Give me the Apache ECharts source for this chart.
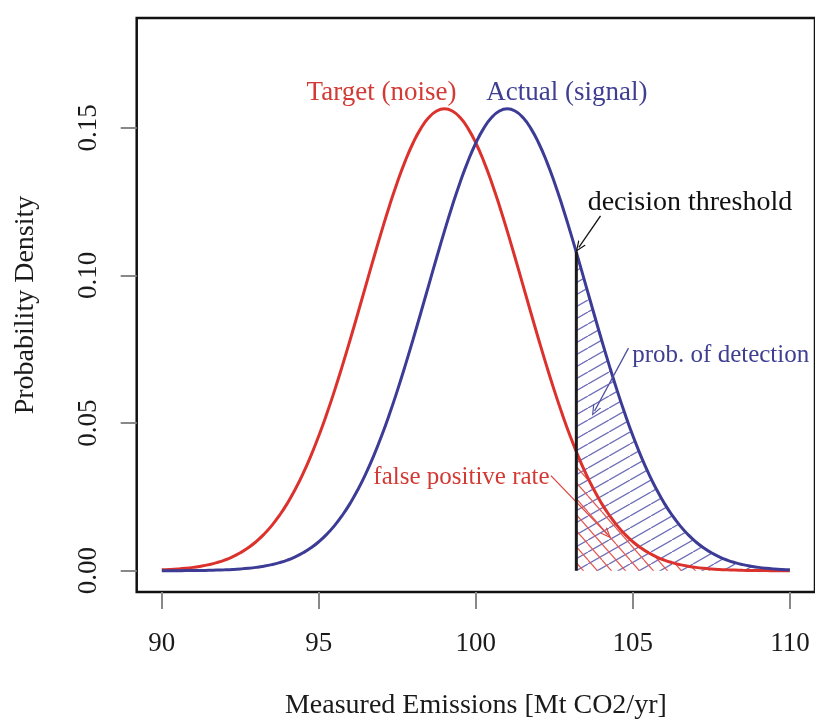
<!DOCTYPE html>
<html>
<head>
<meta charset="utf-8">
<script src="https://cdn.jsdelivr.net/npm/echarts@6/dist/echarts.min.js"></script>
<style>html,body{margin:0;padding:0;background:#fff;}#c{width:815px;height:725px;}</style>
</head>
<body>
<div id="c"></div>
<script>
// ---- data ----
const xValues = [90, 90.25, 90.5, 90.75, 91, 91.25, 91.5, 91.75, 92, 92.25, 92.5, 92.75, 93, 93.25, 93.5, 93.75,
  94, 94.25, 94.5, 94.75, 95, 95.25, 95.5, 95.75, 96, 96.25, 96.5, 96.75, 97, 97.25, 97.5, 97.75,
  98, 98.25, 98.5, 98.75, 99, 99.25, 99.5, 99.75, 100, 100.25, 100.5, 100.75, 101, 101.25, 101.5, 101.75,
  102, 102.25, 102.5, 102.75, 103, 103.25, 103.5, 103.75, 104, 104.25, 104.5, 104.75, 105, 105.25, 105.5, 105.75,
  106, 106.25, 106.5, 106.75, 107, 107.25, 107.5, 107.75, 108, 108.25, 108.5, 108.75, 109, 109.25, 109.5, 109.75, 110];
const targetNoise = [0.00031, 0.00043, 0.00060, 0.00083, 0.00114, 0.00154, 0.00207, 0.00275, 0.00361, 0.00471, 0.00607, 0.00776,
  0.00982, 0.01231, 0.01528, 0.01879, 0.02288, 0.02760, 0.03298, 0.03901, 0.04571, 0.05306, 0.06100, 0.06945,
  0.07831, 0.08747, 0.09675, 0.10600, 0.11502, 0.12363, 0.13160, 0.13874, 0.14487, 0.14983, 0.15347, 0.15570,
  0.15645, 0.15570, 0.15347, 0.14983, 0.14487, 0.13874, 0.13160, 0.12363, 0.11502, 0.10600, 0.09675, 0.08747,
  0.07831, 0.06945, 0.06100, 0.05306, 0.04571, 0.03901, 0.03298, 0.02760, 0.02288, 0.01879, 0.01528, 0.01231,
  0.00982, 0.00776, 0.00607, 0.00471, 0.00361, 0.00275, 0.00207, 0.00154, 0.00114, 0.00083, 0.00060, 0.00043,
  0.00031, 0.00022, 0.00015, 0.00010, 0.00007, 0.00005, 0.00003, 0.00002, 0.00001];
const actualSignal = [0.00001, 0.00002, 0.00003, 0.00005, 0.00007, 0.00010, 0.00015, 0.00022, 0.00031, 0.00043, 0.00060,
  0.00083, 0.00114, 0.00154, 0.00207, 0.00275, 0.00361, 0.00471, 0.00607, 0.00776, 0.00982, 0.01231, 0.01528,
  0.01879, 0.02288, 0.02760, 0.03298, 0.03901, 0.04571, 0.05306, 0.06100, 0.06945, 0.07831, 0.08747, 0.09675,
  0.10600, 0.11502, 0.12363, 0.13160, 0.13874, 0.14487, 0.14983, 0.15347, 0.15570, 0.15645, 0.15570, 0.15347,
  0.14983, 0.14487, 0.13874, 0.13160, 0.12363, 0.11502, 0.10600, 0.09675, 0.08747, 0.07831, 0.06945, 0.06100,
  0.05306, 0.04571, 0.03901, 0.03298, 0.02760, 0.02288, 0.01879, 0.01528, 0.01231, 0.00982, 0.00776, 0.00607,
  0.00471, 0.00361, 0.00275, 0.00207, 0.00154, 0.00114, 0.00083, 0.00060, 0.00043, 0.00031];
const threshold = 103.2;
const signalAtThreshold = 0.108;
const noiseAtThreshold = 0.0403;
const xTicks = [90, 95, 100, 105, 110];
const yTicks = [0, 0.05, 0.10, 0.15];
const xTitle = 'Measured Emissions [Mt CO2/yr]';
const yTitle = 'Probability Density';
// annotation texts: [text, x, y]
const noiseLabel = ['Target (noise)', 99.38, 0.162];
const signalLabel = ['Actual (signal)', 100.33, 0.162];
const thresholdLabel = ['decision threshold', 103.56, 0.1245];
const detectionLabel = ['prob. of detection', 104.98, 0.0730];
const fprLabel = ['false positive rate', 102.35, 0.0315];
// arrows: [x1, y1, x2, y2]
const thresholdArrow = [103.97, 0.1202, 103.28, 0.1095];
const detectionArrow = [104.86, 0.0754, 103.78, 0.0541];
const fprArrow = [102.39, 0.0322, 104.19, 0.0123];

// ---- styles ----
const RED = '#dc322d', BLUE = '#3c3c96', RED_TXT = '#d23a35', BLUE_TXT = '#3e3e92';
const FONT = 'Liberation Serif';
const OPEN_ARROW = 'path://M5,0 L10,10 L8.6,10 L5,2.8 L1.4,10 L0,10 Z';

function hatch(w, h, color, lw, up) {
  const c = document.createElement('canvas');
  c.width = w; c.height = h;
  const ctx = c.getContext('2d');
  ctx.strokeStyle = color; ctx.lineWidth = lw;
  for (let k = -1; k <= 1; k++) {
    ctx.beginPath();
    if (up) { ctx.moveTo(k * w, h); ctx.lineTo(k * w + w, 0); }
    else { ctx.moveTo(k * w, 0); ctx.lineTo(k * w + w, h); }
    ctx.stroke();
  }
  return c;
}

const pairs = (ys) => xValues.map((x, i) => [x, ys[i]]);
const tail = (ys, y0) => [[threshold, y0]].concat(xValues.map((x, i) => [x, ys[i]]).filter(p => p[0] > threshold));

function textItem(lbl, color, align, size) {
  return {
    value: [lbl[1], lbl[2]],
    label: { show: true, position: 'inside', formatter: lbl[0], color: color, fontFamily: FONT, fontSize: size, align: align, verticalAlign: 'middle' }
  };
}
function arrow(a, color) {
  return [{ coord: [a[0], a[1]], lineStyle: { color: color }, itemStyle: { color: color } }, { coord: [a[2], a[3]], lineStyle: { color: color }, itemStyle: { color: color } }];
}

const chart = echarts.init(document.getElementById('c'), null, { renderer: 'canvas' });
chart.setOption({
  animation: false,
  backgroundColor: '#fff',
  grid: { left: 136.7, top: 18, width: 681.6, height: 577, show: true, borderColor: '#111', borderWidth: 2.5, backgroundColor: 'transparent' },
  xAxis: {
    type: 'value', min: 89.2, max: 110.8,
    name: xTitle, nameLocation: 'middle', nameGap: 100,
    nameTextStyle: { fontFamily: FONT, fontSize: 28, color: '#1a1a1a' },
    axisLine: { show: false, onZero: false },
    splitLine: { show: false },
    axisTick: { show: true, customValues: xTicks, length: 17, lineStyle: { color: '#888', width: 2 } },
    axisLabel: { customValues: xTicks, margin: 38, fontFamily: FONT, fontSize: 27, color: '#1a1a1a', formatter: v => String(v) }
  },
  yAxis: {
    type: 'value', min: -0.0072, max: 0.1872,
    name: yTitle, nameLocation: 'middle', nameGap: 97, nameRotate: 90,
    nameTextStyle: { fontFamily: FONT, fontSize: 28, color: '#1a1a1a' },
    axisLine: { show: false, onZero: false },
    splitLine: { show: false },
    axisTick: { show: true, customValues: yTicks, length: 16, lineStyle: { color: '#888', width: 2 } },
    axisLabel: { customValues: yTicks, rotate: 90, margin: 34, fontFamily: FONT, fontSize: 27, color: '#1a1a1a', formatter: v => v.toFixed(2) }
  },
  series: [
    {
      name: 'detection area', type: 'line', data: tail(actualSignal, signalAtThreshold), smooth: true, symbol: 'none',
      lineStyle: { opacity: 0 }, silent: true, z: 1,
      areaStyle: { opacity: 1, color: { image: hatch(21, 12, '#6e6eb8', 1.3, true), repeat: 'repeat' } }
    },
    {
      name: 'false positive area', type: 'line', data: tail(targetNoise, noiseAtThreshold), smooth: true, symbol: 'none',
      lineStyle: { opacity: 0 }, silent: true, z: 2,
      areaStyle: { opacity: 1, color: { image: hatch(14, 16, '#e25a55', 1.2, false), repeat: 'repeat' } }
    },
    {
      name: 'Target (noise)', type: 'line', data: pairs(targetNoise), smooth: true, symbol: 'none', z: 3,
      lineStyle: { color: RED, width: 3 }
    },
    {
      name: 'Actual (signal)', type: 'line', data: pairs(actualSignal), smooth: true, symbol: 'none', z: 4,
      lineStyle: { color: BLUE, width: 3 }
    },
    {
      name: 'threshold', type: 'line', data: [[threshold, 0], [threshold, signalAtThreshold]], symbol: 'none', z: 5,
      lineStyle: { color: '#1a1a1a', width: 3 },
      markLine: {
        silent: true, symbol: ['none', OPEN_ARROW], symbolSize: [9, 11], label: { show: false },
        lineStyle: { type: 'solid', width: 1.3 },
        data: [arrow(thresholdArrow, '#111'), arrow(detectionArrow, '#4e4ea2'), arrow(fprArrow, '#dd4540')]
      }
    },
    {
      name: 'labels', type: 'scatter', symbolSize: 1, itemStyle: { color: 'rgba(0,0,0,0)', opacity: 1 }, z: 6, silent: true,
      data: [
        textItem(noiseLabel, RED_TXT, 'right', 27),
        textItem(signalLabel, BLUE_TXT, 'left', 27),
        textItem(thresholdLabel, '#111', 'left', 28),
        textItem(detectionLabel, BLUE_TXT, 'left', 25),
        textItem(fprLabel, RED_TXT, 'right', 25)
      ]
    }
  ]
});
</script>
</body>
</html>
